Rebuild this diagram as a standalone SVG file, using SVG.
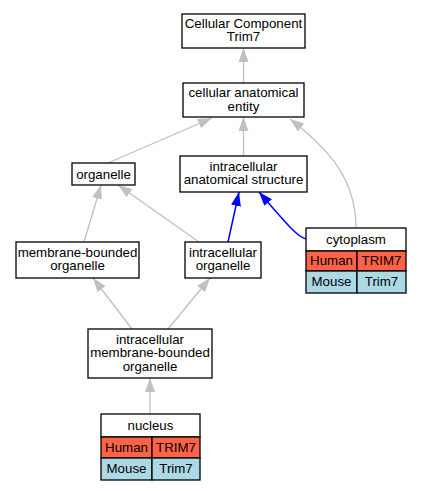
<svg xmlns="http://www.w3.org/2000/svg" width="421" height="491" viewBox="0 0 421 491">
<style>
text{font-family:"Liberation Sans",Arial,sans-serif;font-size:13.3px;fill:#000;text-anchor:middle}
.box{fill:#fff;stroke:#000;stroke-width:1.3}
.hum{fill:#ff6347;stroke:#000;stroke-width:1.3}
.mou{fill:#add8e6;stroke:#000;stroke-width:1.3}
.g{fill:none;stroke:#c0c0c0;stroke-width:1.3}
.b{fill:none;stroke:#0000ff;stroke-width:1.5}
</style>
<defs>
<marker id="ag" viewBox="0 0 14 10" refX="14" refY="5" markerWidth="14" markerHeight="10" markerUnits="userSpaceOnUse" orient="auto"><path d="M0,0 L14,5 L0,10 z" fill="#c0c0c0"/></marker>
<marker id="ab" viewBox="0 0 14 10" refX="14" refY="5" markerWidth="14" markerHeight="10" markerUnits="userSpaceOnUse" orient="auto"><path d="M0,0 L14,5 L0,10 z" fill="#0000ff"/></marker>
</defs>
<g id="connectors">
<path class="g" d="M243.5,83 L243.5,48" marker-end="url(#ag)"/>
<path class="g" d="M108,163 L212,118" marker-end="url(#ag)"/>
<path class="g" d="M356,228 C356,180 330,150 290,119" marker-end="url(#ag)"/>
<path class="g" d="M243.5,156 L243.5,117" marker-end="url(#ag)"/>
<path class="g" d="M84,242 L101,185" marker-end="url(#ag)"/>
<path class="g" d="M199,242 L118,185" marker-end="url(#ag)"/>
<path class="b" d="M228,242 L239,192" marker-end="url(#ab)"/>
<path class="b" d="M306,239 C298,237 290,228 259,192" marker-end="url(#ab)"/>
<path class="g" d="M132,329 L93,278" marker-end="url(#ag)"/>
<path class="g" d="M168,329 L210,278" marker-end="url(#ag)"/>
<path class="g" d="M150,414 L150,378" marker-end="url(#ag)"/>
</g>
<g id="n_root"><rect class="box" x="182" y="14" width="123" height="34"/><text x="243.5" y="27.5">Cellular Component</text><text x="243.5" y="41">Trim7</text></g>
<g id="n_cae"><rect class="box" x="183" y="83" width="121" height="34"/><text x="243.5" y="97">cellular anatomical</text><text x="243.5" y="110.5">entity</text></g>
<g id="n_organelle"><rect class="box" x="72" y="163" width="63" height="22"/><text x="103.5" y="178.5">organelle</text></g>
<g id="n_ias"><rect class="box" x="180" y="156" width="127" height="36"/><text x="243.5" y="170.5">intracellular</text><text x="243.5" y="184">anatomical structure</text></g>
<g id="n_cytoplasm">
<rect class="box" x="306" y="228" width="100" height="23"/><text x="356" y="244">cytoplasm</text>
<rect class="hum" x="306" y="251" width="51" height="20"/><rect class="hum" x="357" y="251" width="49" height="20"/>
<text x="331.5" y="265">Human</text><text x="381.5" y="265">TRIM7</text>
<rect class="mou" x="306" y="271" width="51" height="22"/><rect class="mou" x="357" y="271" width="49" height="22"/>
<text x="331.5" y="286">Mouse</text><text x="381.5" y="286">Trim7</text>
</g>
<g id="n_mbo"><rect class="box" x="16" y="242" width="123" height="36"/><text x="77.5" y="256.5">membrane-bounded</text><text x="77.5" y="270">organelle</text></g>
<g id="n_io"><rect class="box" x="185" y="242" width="76" height="36"/><text x="223" y="256.5">intracellular</text><text x="223" y="270">organelle</text></g>
<g id="n_imbo"><rect class="box" x="88" y="329" width="124" height="49"/><text x="150" y="343.5">intracellular</text><text x="150" y="357">membrane-bounded</text><text x="150" y="370.5">organelle</text></g>
<g id="n_nucleus">
<rect class="box" x="101" y="414" width="99" height="23"/><text x="150.5" y="430">nucleus</text>
<rect class="hum" x="101" y="437" width="51" height="21"/><rect class="hum" x="152" y="437" width="48" height="21"/>
<text x="126.5" y="452">Human</text><text x="176" y="452">TRIM7</text>
<rect class="mou" x="101" y="458" width="51" height="22"/><rect class="mou" x="152" y="458" width="48" height="22"/>
<text x="126.5" y="473">Mouse</text><text x="176" y="473">Trim7</text>
</g>
</svg>
